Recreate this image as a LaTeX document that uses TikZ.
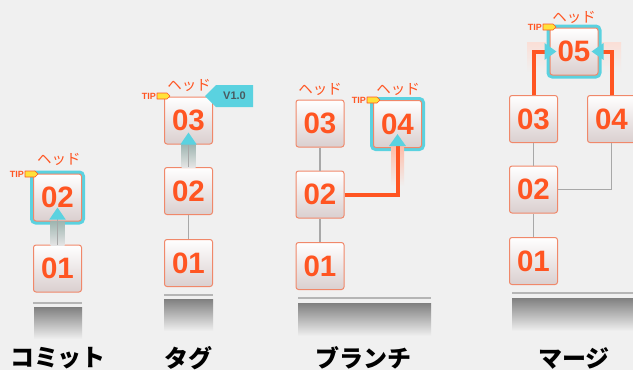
\documentclass[tikz,border=0pt]{standalone}
\usepackage{fontspec}
\setmainfont{Liberation Sans}
\newfontfamily\jp{Noto Sans CJK JP}
\usetikzlibrary{arrows.meta}
\definecolor{bg}{HTML}{F0F0F0}
\definecolor{org}{HTML}{FF5522}
\definecolor{bord}{HTML}{F0886A}
\definecolor{cy}{HTML}{5AD2E0}
\definecolor{boxbot}{HTML}{DACFCF}
\definecolor{gline}{HTML}{A8A8A8}
\definecolor{ylw}{HTML}{FFE23A}
\definecolor{glowg}{HTML}{9DB5B0}
\definecolor{tagtxt}{HTML}{4A5A60}
\tikzset{
 commit/.style={draw=bord, line width=1pt, rounded corners=2.5pt, top color=white, bottom color=boxbot, minimum width=48pt, minimum height=47pt, inner sep=0pt, text=org, font=\bfseries\fontsize{29.5}{29.5}\selectfont},
 highlight/.style={preaction={draw=cy, line width=7pt, rounded corners=3pt}},
 link/.style={draw=gline, line width=1.6pt},
 olink/.style={draw=org, line width=4pt},
 headlbl/.style={text=org, font=\jp\fontsize{14.5}{14.5}\selectfont, inner sep=0pt},
 tiptext/.style={text=org, font=\bfseries\fontsize{9}{9}\selectfont, inner sep=0pt},
 caption/.style={font=\jp\bfseries\fontsize{24}{24}\selectfont, text=black, inner sep=0pt},
 baseln/.style={draw=gline!85, line width=2.5pt},
 floorshade/.style={top color=black!50, bottom color=bg},
 glowshade/.style={top color=glowg, bottom color=bg!95!black},
 oglow/.style={top color=org!40, bottom color=bg},
 mglow/.style={top color=black!10!org!18, bottom color=bg},
 arr/.style={-{Triangle[width=16pt,length=12pt,color=cy]}},
 flag/.style={draw=org, fill=ylw, line width=0.7pt, line join=round}
}
\newcommand\tipflag[2]{%
 \draw[flag] (#1-13,#2-3) -- (#1-3,#2-3) -- (#1,#2) -- (#1-3,#2+3) -- (#1-13,#2+3) -- cycle;
 \node[tiptext, anchor=east] at (#1-14,#2) {TIP};}
\begin{document}
\begin{tikzpicture}[x=1pt,y=-1pt]
\useasboundingbox (0,0) rectangle (633,370);
\fill[bg] (0,0) rectangle (633,370);

% ---------- commit ----------
\node[commit] (c1) at (57.5,268.5) {01};
\node[commit, highlight] (c2) at (57.5,197.5) {02};
\shade[glowshade] (50.5,221) rectangle (64.5,245);
\draw[link, arr] (c1.north) -- ([yshift=14pt]c2.south);
\node[headlbl] (c2h) at (59,159) {ヘッド};
\tipflag{38}{174}
\draw[baseln] (33,303) -- (82,303);
\shade[floorshade] (34,307) rectangle (82,339);
\node[caption] (capc) at (58,358) {コミット};

% ---------- tag ----------
\node[commit] (t1) at (188.5,263) {01};
\node[commit] (t2) at (188.5,191) {02};
\node[commit] (t3) at (188.5,120.5) {03};
\draw[link] (t1) -- (t2);
\shade[glowshade] (181.5,144) rectangle (195.5,167);
\draw[link, arr] (t2.north) -- ([yshift=12pt]t3.south);
\fill[cy] (205,96) -- (216,85) -- (253,85) -- (253,107) -- (216,107) -- cycle;
\node[font=\bfseries\fontsize{11}{11}\selectfont, text=tagtxt] (v10) at (234.5,96) {V1.0};
\node[headlbl] (t3h) at (189,85) {ヘッド};
\tipflag{170}{96}
\draw[baseln] (164,295) -- (213,295);
\shade[floorshade] (164,299) rectangle (213,331);
\node[caption] (capt) at (188,358) {タグ};

% ---------- branch ----------
\node[commit] (b1) at (320,266) {01};
\node[commit] (b2) at (320,194.5) {02};
\node[commit] (b3) at (320,123.5) {03};
\node[commit, highlight] (b4) at (397.5,124) {04};
\draw[link] (b1) -- (b2);
\draw[link] (b2) -- (b3);
\shade[oglow] (391,146) rectangle (404,186);
\draw[olink, arr] (b2.east) -| ([yshift=14pt]b4.south);
\node[headlbl] (b3h) at (320,89) {ヘッド};
\node[headlbl] (b4h) at (398,89) {ヘッド};
\tipflag{380}{100}
\draw[baseln] (298,298) -- (431,298);
\shade[floorshade] (298,303) rectangle (431,336);
\node[caption] (capb) at (363,358) {ブランチ};

% ---------- merge ----------
\shade[mglow] (527,42) rectangle (546,72);
\shade[mglow] (602,42) rectangle (621,72);
\node[commit] (m1) at (533.5,261) {01};
\node[commit] (m2) at (533.5,189.5) {02};
\node[commit] (m3) at (533.5,119) {03};
\node[commit] (m4) at (611.5,119) {04};
\node[commit, highlight] (m5) at (574,51.5) {05};
\draw[link] (m1) -- (m2);
\draw[link] (m2) -- (m3);
\draw[link] (m2.east) -| (m4.south);
\draw[olink, arr] (m3.north) |- ([xshift=7pt]m5.west);
\draw[olink, arr] (m4.north) |- ([xshift=-7pt]m5.east);
\node[headlbl] (m5h) at (574,17) {ヘッド};
\tipflag{556}{27}
\draw[baseln] (512,293) -- (633,293);
\shade[floorshade] (512,298) rectangle (633,331);
\node[caption] (capm) at (574,358) {マージ};
\end{tikzpicture}
\end{document}
